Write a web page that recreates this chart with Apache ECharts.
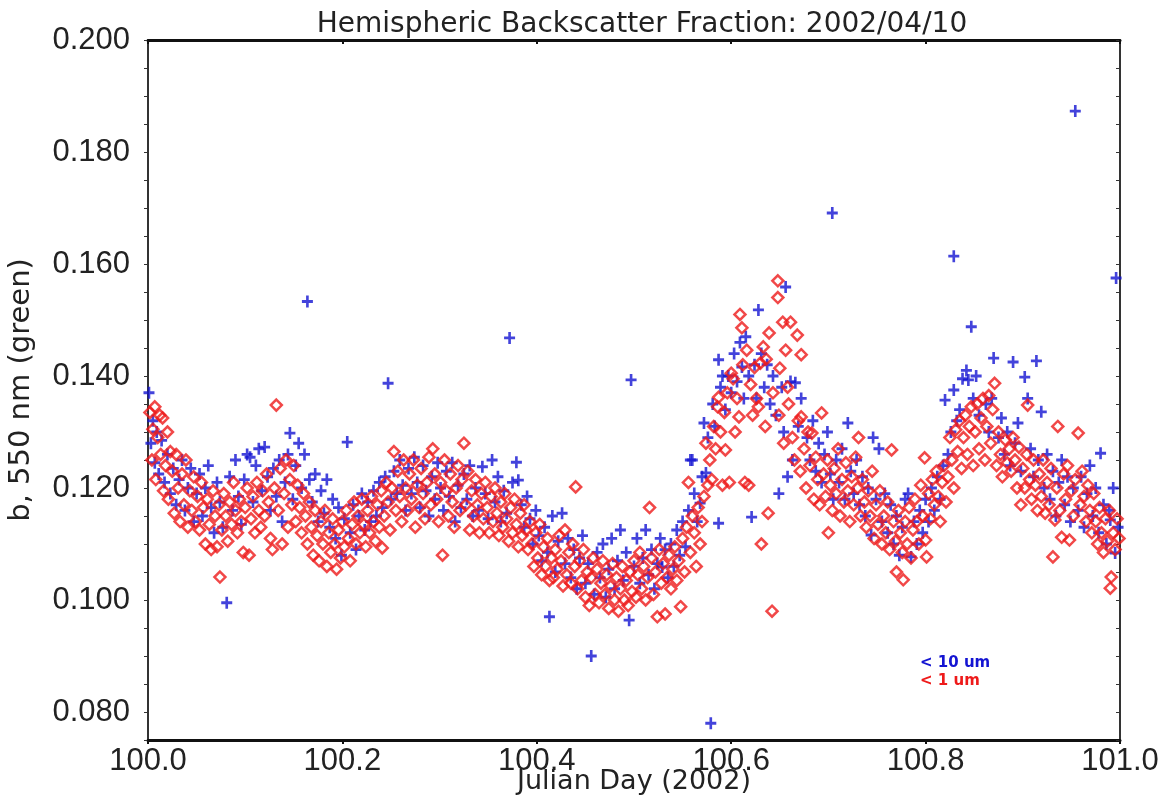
<!DOCTYPE html>
<html>
<head>
<meta charset="utf-8">
<title>Hemispheric Backscatter Fraction</title>
<script src="https://cdn.jsdelivr.net/npm/echarts@6/dist/echarts.min.js"></script>
<style>
  html, body { margin: 0; padding: 0; background: #fff; }
  #main { width: 1163px; height: 801px; }
</style>
</head>
<body>
<div id="main"></div>
<script>
// day / value pairs, < 10 um (blue crosses)
var coarse = [
  [100.001,0.1370],[100.003,0.1280],[100.005,0.1320],[100.007,0.1245],[100.009,0.1300],[100.011,0.1225],[100.014,0.1285],[100.017,0.1210],
  [100.020,0.1260],[100.023,0.1190],[100.026,0.1235],[100.029,0.1170],[100.032,0.1215],[100.035,0.1250],[100.038,0.1160],[100.041,0.1200],
  [100.044,0.1235],[100.047,0.1140],[100.050,0.1190],[100.053,0.1225],[100.056,0.1150],[100.059,0.1200],[100.062,0.1240],[100.065,0.1165],
  [100.068,0.1120],[100.071,0.1210],[100.074,0.1175],[100.077,0.1130],[100.081,0.0995],[100.084,0.1220],[100.087,0.1160],[100.090,0.1250],
  [100.093,0.1185],[100.096,0.1135],[100.099,0.1215],[100.102,0.1260],[100.105,0.1255],[100.108,0.1175],[100.111,0.1240],[100.114,0.1270],
  [100.117,0.1195],[100.120,0.1273],[100.123,0.1220],[100.126,0.1160],[100.129,0.1235],[100.132,0.1185],[100.135,0.1250],[100.138,0.1140],
  [100.141,0.1210],[100.144,0.1260],[100.146,0.1298],[100.149,0.1180],[100.152,0.1240],[100.155,0.1280],[100.158,0.1200],[100.161,0.1260],
  [100.164,0.1533],[100.166,0.1215],[100.169,0.1175],[100.172,0.1225],[100.175,0.1140],[100.178,0.1195],[100.181,0.1155],[100.184,0.1215],
  [100.187,0.1130],[100.190,0.1180],[100.193,0.1110],[100.196,0.1165],[100.199,0.1080],[100.202,0.1145],[100.205,0.1282],[100.208,0.1120],
  [100.211,0.1170],[100.214,0.1090],[100.217,0.1150],[100.220,0.1190],[100.223,0.1125],[100.226,0.1175],[100.229,0.1140],[100.232,0.1195],
  [100.235,0.1150],[100.238,0.1210],[100.241,0.1165],[100.244,0.1220],[100.247,0.1387],[100.250,0.1180],[100.253,0.1230],[100.256,0.1190],
  [100.259,0.1250],[100.262,0.1205],[100.265,0.1160],[100.268,0.1235],[100.271,0.1190],[100.274,0.1255],[100.277,0.1210],[100.280,0.1165],
  [100.283,0.1240],[100.286,0.1195],[100.289,0.1150],[100.292,0.1220],[100.295,0.1180],[100.298,0.1245],[100.301,0.1200],[100.304,0.1160],
  [100.307,0.1230],[100.310,0.1185],[100.313,0.1245],[100.316,0.1140],[100.319,0.1205],[100.322,0.1165],[100.325,0.1225],[100.328,0.1180],
  [100.331,0.1240],[100.334,0.1150],[100.337,0.1200],[100.340,0.1160],[100.344,0.1238],[100.347,0.1190],[100.350,0.1145],[100.354,0.1250],
  [100.357,0.1175],[100.360,0.1220],[100.363,0.1140],[100.366,0.1195],[100.369,0.1155],[100.372,0.1468],[100.375,0.1210],[100.379,0.1246],
  [100.381,0.1214],[100.384,0.1170],[100.387,0.1130],[100.390,0.1185],[100.393,0.1145],[100.396,0.1100],[100.399,0.1160],[100.402,0.1115],
  [100.405,0.1070],[100.408,0.1130],[100.411,0.1085],[100.413,0.0970],[100.416,0.1150],[100.419,0.1050],[100.422,0.1105],[100.426,0.1155],
  [100.429,0.1065],[100.432,0.1110],[100.435,0.1040],[100.438,0.1090],[100.441,0.1020],[100.444,0.1075],[100.447,0.1115],[100.450,0.1030],
  [100.453,0.1065],[100.456,0.0900],[100.459,0.1010],[100.462,0.1085],[100.465,0.1040],[100.468,0.1100],[100.471,0.1005],[100.474,0.1055],
  [100.477,0.1110],[100.480,0.1020],[100.483,0.1070],[100.486,0.1125],[100.489,0.1035],[100.492,0.1085],[100.495,0.0964],[100.497,0.1393],
  [100.500,0.1060],[100.503,0.1110],[100.506,0.1030],[100.509,0.1075],[100.512,0.1125],[100.515,0.1045],[100.518,0.1090],[100.521,0.1020],
  [100.524,0.1065],[100.527,0.1110],[100.529,0.1059],[100.532,0.1090],[100.535,0.1040],[100.538,0.1100],[100.541,0.1060],[100.544,0.1125],
  [100.547,0.1080],[100.550,0.1140],[100.553,0.1095],[100.556,0.1160],[100.558,0.1250],[100.560,0.1250],[100.562,0.1190],[100.565,0.1140],
  [100.568,0.1173],[100.570,0.1220],[100.572,0.1316],[100.574,0.1227],[100.576,0.1290],[100.579,0.0780],[100.581,0.1350],[100.583,0.1310],
  [100.587,0.1429],[100.587,0.1137],[100.589,0.1380],[100.591,0.1400],[100.594,0.1340],[100.597,0.1400],[100.600,0.1370],[100.603,0.1440],
  [100.606,0.1390],[100.609,0.1460],[100.611,0.1416],[100.613,0.1360],[100.615,0.1470],[100.618,0.1400],[100.621,0.1148],[100.624,0.1420],
  [100.626,0.1360],[100.628,0.1518],[100.631,0.1440],[100.634,0.1380],[100.637,0.1420],[100.640,0.1350],[100.643,0.1400],[100.646,0.1330],
  [100.649,0.1190],[100.652,0.1380],[100.654,0.1300],[100.656,0.1559],[100.658,0.1220],[100.661,0.1390],[100.663,0.1250],[100.666,0.1388],
  [100.669,0.1310],[100.672,0.1360],[100.704,0.1691],[100.678,0.1290],[100.681,0.1250],[100.684,0.1320],[100.687,0.1230],[100.690,0.1280],
  [100.693,0.1210],[100.696,0.1260],[100.699,0.1300],[100.702,0.1225],[100.705,0.1180],[100.708,0.1250],[100.711,0.1210],[100.714,0.1270],
  [100.717,0.1180],[100.720,0.1316],[100.723,0.1230],[100.726,0.1190],[100.729,0.1250],[100.732,0.1170],[100.735,0.1220],[100.738,0.1150],
  [100.741,0.1200],[100.744,0.1116],[100.746,0.1290],[100.749,0.1180],[100.752,0.1270],[100.755,0.1140],[100.758,0.1190],[100.761,0.1120],
  [100.764,0.1170],[100.767,0.1100],[100.770,0.1150],[100.773,0.1080],[100.776,0.1130],[100.779,0.1180],[100.782,0.1190],[100.785,0.1077],
  [100.788,0.1140],[100.791,0.1100],[100.794,0.1160],[100.797,0.1120],[100.800,0.1180],[100.803,0.1140],[100.806,0.1200],[100.809,0.1160],
  [100.812,0.1220],[100.815,0.1180],[100.818,0.1240],[100.820,0.1357],[100.823,0.1260],[100.826,0.1300],[100.829,0.1375],[100.829,0.1614],
  [100.832,0.1320],[100.835,0.1340],[100.838,0.1395],[100.842,0.1410],[100.844,0.1393],[100.847,0.1488],[100.849,0.1360],[100.852,0.1400],
  [100.855,0.1330],[100.862,0.1350],[100.865,0.1300],[100.868,0.1360],[100.870,0.1432],[100.875,0.1290],[100.878,0.1325],[100.881,0.1260],
  [100.884,0.1300],[100.887,0.1240],[100.890,0.1425],[100.892,0.1280],[100.895,0.1316],[100.898,0.1230],[100.902,0.1398],[100.905,0.1360],
  [100.908,0.1270],[100.911,0.1220],[100.914,0.1427],[100.916,0.1250],[100.919,0.1336],[100.922,0.1200],[100.925,0.1260],[100.928,0.1180],
  [100.931,0.1230],[100.934,0.1150],[100.937,0.1210],[100.940,0.1250],[100.943,0.1170],[100.946,0.1220],[100.949,0.1140],[100.952,0.1200],
  [100.954,0.1873],[100.957,0.1160],[100.960,0.1220],[100.963,0.1130],[100.966,0.1190],[100.969,0.1240],[100.972,0.1150],[100.975,0.1200],
  [100.978,0.1120],[100.980,0.1262],[100.983,0.1170],[100.986,0.1100],[100.989,0.1160],[100.990,0.1143],[100.993,0.1200],[100.995,0.1084],
  [100.998,0.1130],[100.996,0.1575]
];

// < 1 um (red diamonds)
var fine = [
  [100.002,0.1335],[100.004,0.1250],[100.005,0.1305],[100.007,0.1345],[100.008,0.1215],[100.010,0.1290],[100.012,0.1330],[100.013,0.1260],
  [100.015,0.1325],[100.016,0.1195],[100.018,0.1240],[100.020,0.1300],[100.021,0.1180],[100.023,0.1265],[100.025,0.1230],[100.027,0.1155],
  [100.029,0.1260],[100.031,0.1200],[100.033,0.1140],[100.035,0.1225],[100.037,0.1170],[100.039,0.1250],[100.041,0.1130],[100.043,0.1195],
  [100.045,0.1160],[100.047,0.1220],[100.049,0.1140],[100.051,0.1185],[100.053,0.1125],[100.055,0.1210],[100.057,0.1165],[100.059,0.1100],
  [100.061,0.1180],[100.063,0.1135],[100.065,0.1090],[100.067,0.1195],[100.069,0.1150],[100.071,0.1095],[100.073,0.1170],[100.074,0.1041],
  [100.076,0.1125],[100.078,0.1190],[100.080,0.1150],[100.082,0.1105],[100.084,0.1175],[100.086,0.1135],[100.088,0.1210],[100.090,0.1160],
  [100.092,0.1120],[100.094,0.1180],[100.096,0.1140],[100.098,0.1085],[100.100,0.1165],[100.102,0.1200],[100.104,0.1080],[100.106,0.1145],
  [100.108,0.1185],[100.110,0.1120],[100.112,0.1210],[100.114,0.1160],[100.116,0.1130],[100.118,0.1195],[100.120,0.1150],[100.122,0.1225],
  [100.124,0.1175],[100.126,0.1110],[100.128,0.1090],[100.130,0.1200],[100.132,0.1348],[100.134,0.1160],[100.136,0.1235],[100.138,0.1100],
  [100.140,0.1190],[100.142,0.1250],[100.144,0.1130],[100.146,0.1215],[100.148,0.1170],[100.150,0.1240],[100.152,0.1140],[100.154,0.1205],
  [100.156,0.1165],[100.158,0.1120],[100.160,0.1190],[100.162,0.1150],[100.164,0.1100],[100.166,0.1175],[100.168,0.1130],[100.170,0.1080],
  [100.172,0.1160],[100.174,0.1115],[100.176,0.1070],[100.178,0.1140],[100.180,0.1100],[100.182,0.1160],[100.184,0.1060],[100.186,0.1120],
  [100.188,0.1085],[100.190,0.1145],[100.192,0.1100],[100.194,0.1055],[100.196,0.1125],[100.198,0.1075],[100.200,0.1140],[100.202,0.1095],
  [100.204,0.1160],[100.206,0.1110],[100.208,0.1070],[100.210,0.1135],[100.212,0.1175],[100.214,0.1100],[100.216,0.1150],[100.218,0.1120],
  [100.220,0.1180],[100.222,0.1135],[100.224,0.1095],[100.226,0.1160],[100.228,0.1120],[100.230,0.1185],[100.232,0.1140],[100.234,0.1105],
  [100.236,0.1170],[100.238,0.1130],[100.240,0.1195],[100.241,0.1093],[100.243,0.1150],[100.245,0.1210],[100.247,0.1175],[100.249,0.1125],
  [100.251,0.1200],[100.253,0.1265],[100.255,0.1160],[100.257,0.1230],[100.259,0.1185],[100.261,0.1140],[100.263,0.1250],[100.265,0.1200],
  [100.267,0.1160],[100.269,0.1225],[100.271,0.1180],[100.273,0.1250],[100.275,0.1130],[100.277,0.1205],[100.279,0.1165],[100.281,0.1235],
  [100.283,0.1190],[100.285,0.1145],[100.287,0.1210],[100.289,0.1255],[100.291,0.1170],[100.293,0.1270],[100.295,0.1225],[100.297,0.1180],
  [100.299,0.1140],[100.301,0.1210],[100.303,0.1080],[100.305,0.1250],[100.307,0.1195],[100.309,0.1150],[100.311,0.1225],[100.313,0.1175],
  [100.315,0.1130],[100.317,0.1200],[100.319,0.1240],[100.321,0.1160],[100.323,0.1215],[100.325,0.1280],[100.327,0.1170],[100.329,0.1230],
  [100.331,0.1125],[100.333,0.1195],[100.335,0.1150],[100.337,0.1215],[100.339,0.1170],[100.341,0.1120],[100.343,0.1190],[100.345,0.1145],
  [100.347,0.1210],[100.349,0.1165],[100.351,0.1120],[100.353,0.1185],[100.355,0.1140],[100.357,0.1200],[100.359,0.1155],[100.361,0.1115],
  [100.363,0.1175],[100.365,0.1130],[100.367,0.1190],[100.369,0.1145],[100.371,0.1105],[100.373,0.1165],[100.375,0.1120],[100.377,0.1180],
  [100.379,0.1135],[100.381,0.1095],[100.383,0.1155],[100.385,0.1115],[100.387,0.1170],[100.389,0.1125],[100.391,0.1090],[100.393,0.1140],
  [100.395,0.1100],[100.397,0.1060],[100.399,0.1120],[100.401,0.1075],[100.403,0.1135],[100.405,0.1045],[100.407,0.1095],[100.409,0.1060],
  [100.411,0.1110],[100.413,0.1035],[100.415,0.1075],[100.417,0.1040],[100.419,0.1090],[100.421,0.1055],[100.423,0.1115],[100.425,0.1070],
  [100.427,0.1025],[100.429,0.1125],[100.431,0.1045],[100.433,0.1085],[100.435,0.1030],[100.437,0.1100],[100.439,0.1060],[100.440,0.1202],
  [100.442,0.1020],[100.444,0.1070],[100.446,0.1035],[100.448,0.1090],[100.450,0.1005],[100.452,0.1050],[100.454,0.0990],[100.456,0.1040],
  [100.458,0.1075],[100.460,0.1010],[100.462,0.1055],[100.464,0.0995],[100.466,0.1030],[100.468,0.1070],[100.470,0.1010],[100.472,0.1045],
  [100.474,0.0985],[100.476,0.1025],[100.478,0.1065],[100.480,0.1000],[100.482,0.1040],[100.484,0.0980],[100.486,0.1020],[100.488,0.1060],
  [100.490,0.1000],[100.492,0.1035],[100.494,0.0990],[100.496,0.1050],[100.498,0.1015],[100.500,0.1070],[100.502,0.1005],[100.504,0.1045],
  [100.506,0.1085],[100.508,0.1020],[100.510,0.1060],[100.512,0.1000],[100.514,0.1040],[100.516,0.1165],[100.518,0.1075],[100.520,0.1010],
  [100.522,0.1050],[100.524,0.0970],[100.526,0.1090],[100.528,0.1030],[100.530,0.1065],[100.532,0.0975],[100.534,0.1040],[100.536,0.1080],
  [100.538,0.1020],[100.540,0.1055],[100.542,0.1095],[100.544,0.1035],[100.546,0.1070],[100.548,0.0988],[100.550,0.1110],[100.552,0.1050],
  [100.554,0.1130],[100.556,0.1210],[100.558,0.1085],[100.560,0.1150],[100.562,0.1120],[100.564,0.1060],[100.566,0.1165],[100.568,0.1100],
  [100.570,0.1140],[100.572,0.1185],[100.574,0.1280],[100.576,0.1205],[100.578,0.1250],[100.580,0.1215],[100.582,0.1310],[100.584,0.1270],
  [100.586,0.1345],[100.587,0.1362],[100.589,0.1300],[100.591,0.1205],[100.593,0.1335],[100.594,0.1268],[100.596,0.1370],[100.598,0.1210],
  [100.600,0.1405],[100.602,0.1395],[100.604,0.1300],[100.606,0.1360],[100.608,0.1327],[100.609,0.1510],[100.611,0.1486],[100.612,0.1420],
  [100.614,0.1210],[100.616,0.1446],[100.618,0.1205],[100.620,0.1385],[100.622,0.1330],[100.624,0.1415],[100.626,0.1360],[100.628,0.1345],
  [100.630,0.1423],[100.631,0.1100],[100.633,0.1452],[100.635,0.1310],[100.636,0.1430],[100.638,0.1155],[100.639,0.1477],[100.642,0.0980],
  [100.643,0.1370],[100.648,0.1570],[100.648,0.1540],[100.649,0.1330],[100.650,0.1414],[100.653,0.1496],[100.654,0.1280],[100.656,0.1446],
  [100.658,0.1380],[100.659,0.1350],[100.661,0.1496],[100.663,0.1290],[100.665,0.1250],[100.668,0.1473],[100.669,0.1320],[100.671,0.1230],
  [100.672,0.1327],[100.672,0.1438],[100.675,0.1270],[100.677,0.1200],[100.679,0.1300],[100.681,0.1240],[100.683,0.1298],[100.685,0.1180],
  [100.687,0.1255],[100.689,0.1215],[100.691,0.1170],[100.693,0.1334],[100.695,0.1225],[100.697,0.1185],[100.699,0.1250],[100.700,0.1120],
  [100.702,0.1205],[100.704,0.1160],[100.706,0.1235],[100.708,0.1190],[100.710,0.1270],[100.712,0.1150],[100.714,0.1215],[100.716,0.1175],
  [100.718,0.1245],[100.720,0.1195],[100.722,0.1140],[100.724,0.1220],[100.726,0.1170],[100.728,0.1255],[100.730,0.1200],[100.731,0.1290],
  [100.733,0.1150],[100.735,0.1215],[100.737,0.1175],[100.739,0.1130],[100.741,0.1195],[100.743,0.1150],[100.745,0.1230],[100.747,0.1110],
  [100.749,0.1170],[100.751,0.1135],[100.753,0.1195],[100.755,0.1100],[100.757,0.1150],[100.759,0.1120],[100.761,0.1175],[100.763,0.1090],
  [100.765,0.1268],[100.767,0.1140],[100.769,0.1105],[100.770,0.1050],[100.772,0.1160],[100.774,0.1120],[100.776,0.1085],[100.777,0.1036],
  [100.779,0.1140],[100.781,0.1100],[100.783,0.1165],[100.785,0.1075],[100.787,0.1125],[100.789,0.1180],[100.791,0.1140],[100.793,0.1100],
  [100.795,0.1205],[100.797,0.1150],[100.799,0.1254],[100.800,0.1107],[100.801,0.1077],[100.803,0.1190],[100.805,0.1145],[100.807,0.1215],
  [100.809,0.1170],[100.811,0.1230],[100.813,0.1185],[100.815,0.1140],[100.817,0.1210],[100.819,0.1240],[100.821,0.1175],[100.823,0.1220],
  [100.825,0.1290],[100.827,0.1250],[100.829,0.1200],[100.831,0.1304],[100.833,0.1265],[100.835,0.1320],[100.837,0.1235],[100.839,0.1290],
  [100.841,0.1330],[100.843,0.1260],[100.845,0.1310],[100.847,0.1345],[100.849,0.1240],[100.851,0.1300],[100.853,0.1350],[100.855,0.1270],
  [100.857,0.1325],[100.859,0.1360],[100.861,0.1250],[100.863,0.1310],[100.865,0.1365],[100.867,0.1280],[100.869,0.1340],[100.871,0.1387],
  [100.873,0.1240],[100.875,0.1300],[100.877,0.1260],[100.879,0.1220],[100.882,0.1286],[100.884,0.1245],[100.886,0.1270],[100.888,0.1230],
  [100.890,0.1290],[100.892,0.1250],[100.894,0.1200],[100.896,0.1273],[100.898,0.1170],[100.900,0.1235],[100.902,0.1200],[100.904,0.1260],
  [100.905,0.1348],[100.907,0.1215],[100.909,0.1180],[100.911,0.1250],[100.913,0.1205],[100.915,0.1160],[100.917,0.1225],[100.919,0.1185],
  [100.921,0.1250],[100.923,0.1155],[100.925,0.1210],[100.927,0.1170],[100.929,0.1235],[100.931,0.1077],[100.933,0.1143],[100.935,0.1200],
  [100.936,0.1310],[100.938,0.1160],[100.940,0.1112],[100.942,0.1225],[100.944,0.1180],[100.946,0.1240],[100.948,0.1107],[100.950,0.1195],
  [100.952,0.1150],[100.954,0.1215],[100.957,0.1298],[100.959,0.1170],[100.961,0.1230],[100.963,0.1185],[100.965,0.1140],[100.967,0.1205],
  [100.969,0.1160],[100.971,0.1120],[100.973,0.1190],[100.975,0.1140],[100.977,0.1100],[100.979,0.1165],[100.981,0.1120],[100.983,0.1085],
  [100.985,0.1145],[100.987,0.1105],[100.989,0.1160],[100.990,0.1021],[100.991,0.1041],[100.993,0.1120],[100.995,0.1090],[100.997,0.1145],
  [100.999,0.1110]
];

var seriesNames = ['< 10 um', '< 1 um'];
var colors = ['#1414d2', '#ee1a1a'];

var plusPath = 'path://M3.8,0 L6.2,0 L6.2,3.8 L10,3.8 L10,6.2 L6.2,6.2 L6.2,10 L3.8,10 L3.8,6.2 L0,6.2 L0,3.8 L3.8,3.8 Z';

var chart = echarts.init(document.getElementById('main'));

// y ticks every 0.005, labels only on the 0.02 steps
function yLabel(v) {
  var m = Math.round(v * 1000);
  return m % 20 === 0 ? (m / 1000).toFixed(3) : '';
}

var option = {
  backgroundColor: '#fff',
  animation: false,
  title: {
    text: 'Hemispheric Backscatter Fraction: 2002/04/10',
    left: 637,
    textAlign: 'center',
    top: 6,
    textStyle: { fontFamily: 'DejaVu Sans', fontSize: 28, fontWeight: 'normal', color: '#222' }
  },
  legend: {
    orient: 'vertical',
    left: 910,
    top: 651,
    icon: 'none',
    itemWidth: 0,
    itemHeight: 0,
    itemGap: 3,
    selectedMode: false,
    data: [
      { name: seriesNames[0], textStyle: { color: colors[0] } },
      { name: seriesNames[1], textStyle: { color: colors[1] } }
    ],
    textStyle: { fontFamily: 'DejaVu Sans', fontSize: 15, fontWeight: 'bold' }
  },
  grid: { left: 148, right: 43, top: 40, bottom: 61, containLabel: false, outerBoundsMode: 'none' },
  xAxis: [{
    type: 'value',
    min: 100,
    max: 101,
    interval: 0.2,
    name: 'Julian Day (2002)',
    nameLocation: 'middle',
    nameGap: 28,
    nameMoveOverlap: false,
    nameTextStyle: { fontFamily: 'DejaVu Sans', fontSize: 27, color: '#222', verticalAlign: 'top' },
    axisLine: { lineStyle: { color: '#111', width: 3 } },
    axisTick: { length: 4, lineStyle: { color: '#111', width: 2 } },
    axisLabel: {
      margin: 6,
      fontFamily: 'Liberation Sans',
      fontSize: 31,
      color: '#222',
      formatter: function (v) { return v.toFixed(1); }
    },
    splitLine: { show: false }
  }, {
    type: 'value',
    position: 'top',
    min: 100,
    max: 101,
    interval: 0.2,
    axisLine: { lineStyle: { color: '#111', width: 3 } },
    axisTick: { inside: true, length: 4, lineStyle: { color: '#111', width: 2 } },
    axisLabel: { show: false },
    splitLine: { show: false }
  }],
  yAxis: [{
    type: 'value',
    min: 0.075,
    max: 0.2,
    interval: 0.005,
    name: 'b, 550 nm (green)',
    nameLocation: 'middle',
    nameRotate: 90,
    nameGap: 112,
    nameMoveOverlap: false,
    nameTextStyle: { fontFamily: 'DejaVu Sans', fontSize: 29, color: '#222' },
    axisLine: { lineStyle: { color: '#333', width: 2 } },
    axisTick: { length: 4, lineStyle: { color: '#333' } },
    axisLabel: {
      margin: 18,
      fontFamily: 'Liberation Sans',
      fontSize: 31,
      color: '#222',
      formatter: yLabel
    },
    splitLine: { show: false }
  }, {
    type: 'value',
    position: 'right',
    min: 0.075,
    max: 0.2,
    interval: 0.005,
    axisLine: { lineStyle: { color: '#333', width: 2 } },
    axisTick: { inside: true, length: 4, lineStyle: { color: '#333' } },
    axisLabel: { show: false },
    splitLine: { show: false }
  }],
  series: [{
    name: seriesNames[0],
    type: 'scatter',
    data: coarse,
    symbol: plusPath,
    symbolSize: [11, 12],
    itemStyle: { color: colors[0] },
    z: 2
  }, {
    name: seriesNames[1],
    type: 'scatter',
    data: fine,
    symbol: 'diamond',
    symbolSize: 11,
    itemStyle: { color: 'rgba(255,255,255,0)', borderColor: colors[1], borderWidth: 2.5 },
    z: 3
  }]
};

chart.setOption(option);
</script>
</body>
</html>
